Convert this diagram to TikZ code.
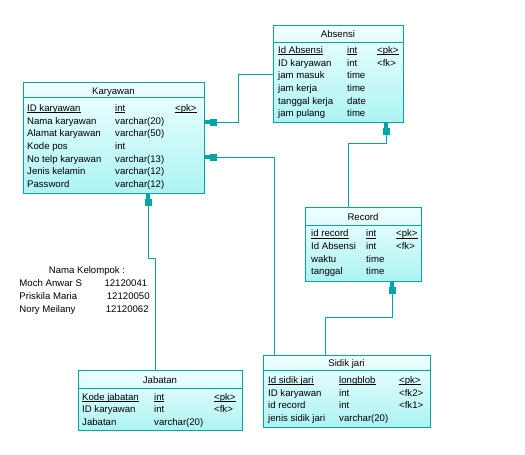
\documentclass[tikz,border=0pt]{standalone}
\usepackage{fontspec}
\setmainfont{Liberation Sans}
\usetikzlibrary{arrows.meta,calc}
\definecolor{lineteal}{HTML}{00A6A6}
\definecolor{filltop}{HTML}{F0FFFF}
\definecolor{fillbot}{HTML}{ACF3F3}
\newcommand\ulx[1]{\setbox0\hbox{#1}\rlap{\rule[-1.6pt]{\wd0}{0.7pt}}\box0}
\newcommand\erow[8]{%
  \node[txt] (#1a) at (#3,#2) {#6};
  \node[txt] (#1b) at (#4,#2) {#7};
  \node[txt] (#1c) at (#5,#2) {#8};}
\begin{document}
\begin{tikzpicture}[x=1pt,y=-1pt,
  entity/.style={draw=lineteal, line width=0.9pt, top color=filltop, bottom color=fillbot, inner sep=0pt, anchor=north west},
  hline/.style={draw=lineteal, line width=0.9pt},
  txt/.style={anchor=base west, inner sep=0pt, font=\fontsize{9.6}{11}\selectfont},
  ttl/.style={anchor=base, inner sep=0pt, font=\fontsize{9.6}{11}\selectfont},
  rel/.style={draw=lineteal, line width=1pt, -{Rectangle[length=7pt,width=7pt]Rectangle[length=5pt,width=3.5pt]}}]
\useasboundingbox (0,0) rectangle (525,455);

% Karyawan
\node[entity, minimum width=181pt, minimum height=111pt] (kar) at (23,82) {};
\draw[hline] ($(kar.north west)+(0,15)$) -- ($(kar.north east)+(0,15)$);
\node[ttl] (kart) at (113.5,94.7) {Karyawan};
\erow{k1}{111.3}{27}{115}{175}{\ulx{ID karyawan}}{\ulx{int}}{\ulx{<pk>}}
\erow{k2}{124}{27}{115}{175}{Nama karyawan}{varchar(20)}{}
\erow{k3}{136.7}{27}{115}{175}{Alamat karyawan}{varchar(50)}{}
\erow{k4}{149.4}{27}{115}{175}{Kode pos}{int}{}
\erow{k5}{162.1}{27}{115}{175}{No telp karyawan}{varchar(13)}{}
\erow{k6}{174.8}{27}{115}{175}{Jenis kelamin}{varchar(12)}{}
\erow{k7}{187.5}{27}{115}{175}{Password}{varchar(12)}{}

% Absensi
\node[entity, minimum width=130pt, minimum height=97pt] (abs) at (273,25) {};
\draw[hline] ($(abs.north west)+(0,17)$) -- ($(abs.north east)+(0,17)$);
\node[ttl] (abst) at (338,37.7) {Absensi};
\erow{a1}{53.3}{278}{347}{377}{\ulx{Id Absensi}}{\ulx{int}}{\ulx{<pk>}}
\erow{a2}{66}{278}{347}{377}{ID karyawan}{int}{<fk>}
\erow{a3}{78.7}{278}{347}{377}{jam masuk}{time}{}
\erow{a4}{91.4}{278}{347}{377}{jam kerja}{time}{}
\erow{a5}{104.1}{278}{347}{377}{tanggal kerja}{date}{}
\erow{a6}{116.8}{278}{347}{377}{jam pulang}{time}{}

% Record
\node[entity, minimum width=116pt, minimum height=74pt] (rec) at (305,207) {};
\draw[hline] ($(rec.north west)+(0,18)$) -- ($(rec.north east)+(0,18)$);
\node[ttl] (rect) at (363,220) {Record};
\erow{r1}{236.7}{311}{366}{396}{\ulx{id record}}{\ulx{int}}{\ulx{<pk>}}
\erow{r2}{249.4}{311}{366}{396}{Id Absensi}{int}{<fk>}
\erow{r3}{262.1}{311}{366}{396}{waktu}{time}{}
\erow{r4}{274.8}{311}{366}{396}{tanggal}{time}{}

% Sidik jari
\node[entity, minimum width=167pt, minimum height=72pt] (sid) at (263,355) {};
\draw[hline] ($(sid.north west)+(0,15)$) -- ($(sid.north east)+(0,15)$);
\node[ttl] (sidt) at (346.5,366.7) {Sidik jari};
\erow{s1}{383.3}{268}{339}{399}{\ulx{Id sidik jari}}{\ulx{longblob}}{\ulx{<pk>}}
\erow{s2}{396}{268}{339}{399}{ID karyawan}{int}{<fk2>}
\erow{s3}{408.7}{268}{339}{399}{id record}{int}{<fk1>}
\erow{s4}{421.4}{268}{339}{399}{jenis sidik jari}{varchar(20)}{}

% Jabatan
\node[entity, minimum width=164pt, minimum height=60pt] (jab) at (78,370) {};
\draw[hline] ($(jab.north west)+(0,18)$) -- ($(jab.north east)+(0,18)$);
\node[ttl] (jabt) at (160,383.3) {Jabatan};
\erow{j1}{400}{82}{154}{214}{\ulx{Kode jabatan}}{\ulx{int}}{\ulx{<pk>}}
\erow{j2}{412.7}{82}{154}{214}{ID karyawan}{int}{<fk>}
\erow{j3}{425.4}{82}{154}{214}{Jabatan}{varchar(20)}{}

% Group text
\node[ttl] (grp) at (87,273.3) {Nama Kelompok :};
\node[txt] (g1n) at (19.3,286.7) {Moch Anwar S};
\node[txt] (g1v) at (104.3,286.7) {12120041};
\node[txt] (g2n) at (19.3,299.4) {Priskila Maria};
\node[txt] (g2v) at (106.7,299.4) {12120050};
\node[txt] (g3n) at (19.3,312.1) {Nory Meilany};
\node[txt] (g3v) at (105.7,312.1) {12120062};

% Connectors
\draw[rel] ($(abs.north west)+(0,49)$) -- ++(-35,0) |- ($(kar.north east)+(0,40)$);
\draw[rel] ($(sid.north west)+(11,0)$) |- ($(kar.north east)+(0,75)$);
\draw[rel] ($(jab.north west)+(77,0)$) -- ++(0,-112) -| ($(kar.south west)+(125,0)$);
\draw[rel] ($(rec.north west)+(43,0)$) -- ++(0,-64) -| ($(abs.south west)+(113,0)$);
\draw[rel] ($(sid.north west)+(62,0)$) -- ++(0,-38) -| ($(rec.south west)+(87,0)$);
\end{tikzpicture}
\end{document}
